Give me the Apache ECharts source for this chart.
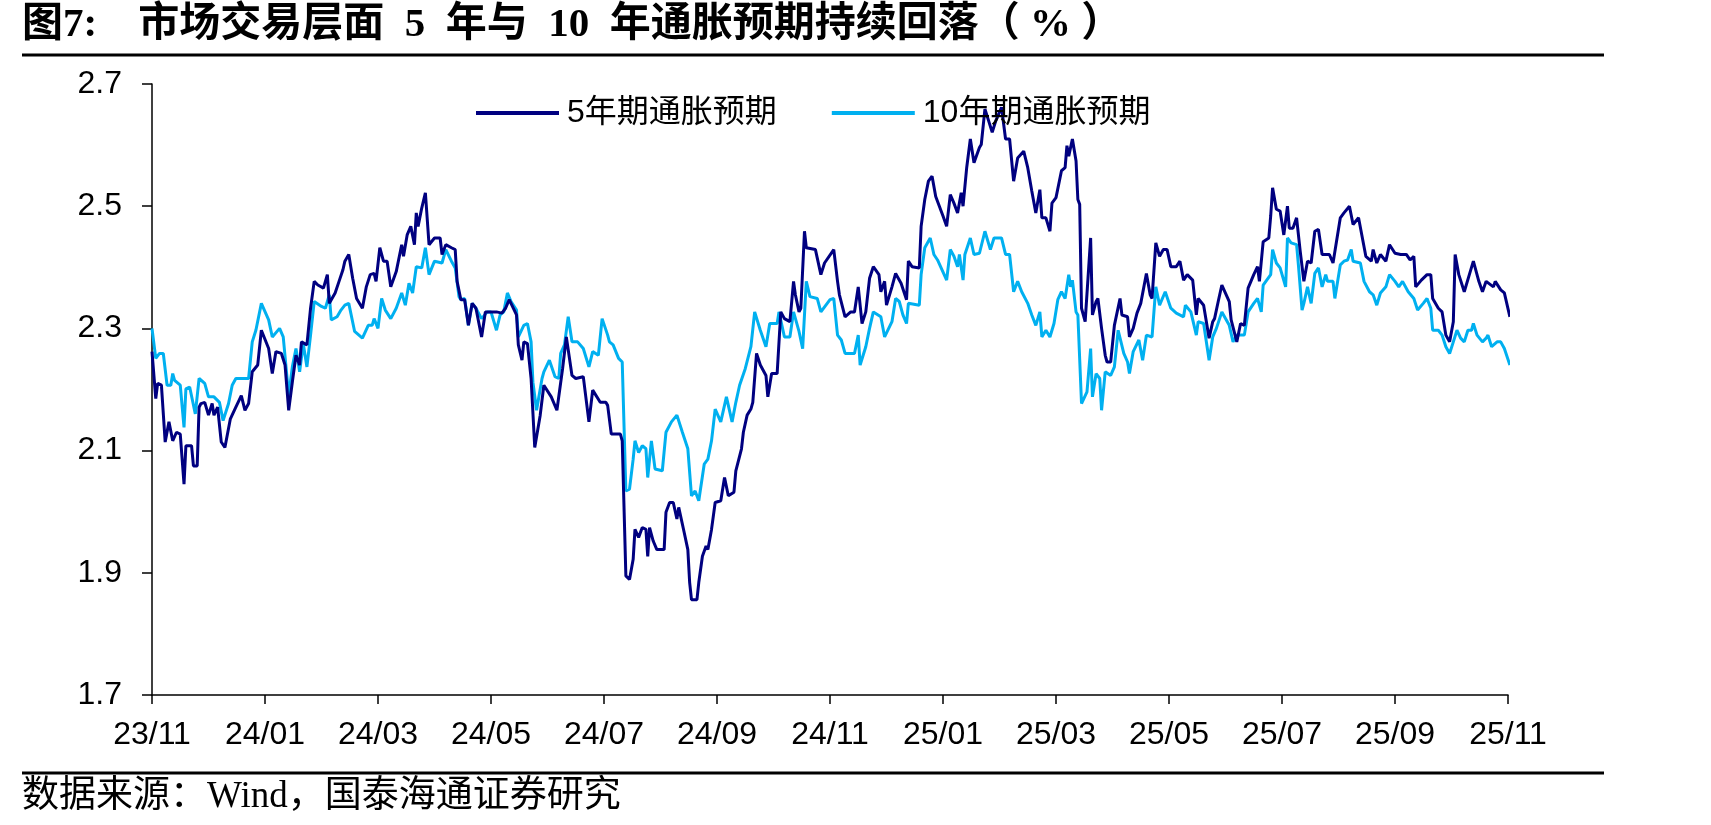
<!DOCTYPE html>
<html>
<head>
<meta charset="utf-8">
<script src="https://cdn.jsdelivr.net/npm/echarts@6/dist/echarts.min.js"></script>
<style>
html,body{margin:0;padding:0;background:#fff;}
#chart{width:1711px;height:825px;}
</style>
</head>
<body>
<div id="chart"></div>
<script>
// ---------- data ----------
const titleText = '图7:    市场交易层面  5  年与  10  年通胀预期持续回落（ % ）';
const sourceText = '数据来源：Wind，国泰海通证券研究';
const seriesNames = ['5年期通胀预期', '10年期通胀预期'];
const tickLabels = ['23/11','24/01','24/03','24/05','24/07','24/09','24/11','25/01','25/03','25/05','25/07','25/09','25/11'];
const yTicks = [1.7, 1.9, 2.1, 2.3, 2.5, 2.7];

const dates5 = [
'2023-11-01','2023-11-03','2023-11-04','2023-11-06','2023-11-08','2023-11-10','2023-11-11','2023-11-12','2023-11-14','2023-11-16',
'2023-11-18','2023-11-19','2023-11-22','2023-11-23','2023-11-25','2023-11-26','2023-11-27','2023-11-29','2023-12-01','2023-12-03',
'2023-12-04','2023-12-06','2023-12-08','2023-12-10','2023-12-13','2023-12-16','2023-12-19','2023-12-21','2023-12-23','2023-12-25',
'2023-12-28','2023-12-30','2024-01-03','2024-01-05','2024-01-07','2024-01-10','2024-01-12','2024-01-14','2024-01-16','2024-01-18',
'2024-01-20','2024-01-21','2024-01-24','2024-01-26','2024-01-28','2024-01-30','2024-02-02','2024-02-04','2024-02-05','2024-02-08',
'2024-02-10','2024-02-12','2024-02-13','2024-02-15','2024-02-17','2024-02-19','2024-02-22','2024-02-24','2024-02-26','2024-02-28',
'2024-02-29','2024-03-02','2024-03-04','2024-03-06','2024-03-08','2024-03-11','2024-03-14','2024-03-15','2024-03-17','2024-03-19',
'2024-03-21','2024-03-22','2024-03-23','2024-03-25','2024-03-27','2024-03-29','2024-04-01','2024-04-04','2024-04-05','2024-04-07',
'2024-04-10','2024-04-12','2024-04-13','2024-04-15','2024-04-17','2024-04-19','2024-04-21','2024-04-23','2024-04-26','2024-04-28',
'2024-05-01','2024-05-04','2024-05-07','2024-05-09','2024-05-11','2024-05-15','2024-05-16','2024-05-18','2024-05-19','2024-05-21',
'2024-05-23','2024-05-25','2024-05-28','2024-05-30','2024-06-03','2024-06-06','2024-06-09','2024-06-11','2024-06-14','2024-06-16',
'2024-06-20','2024-06-23','2024-06-25','2024-06-29','2024-07-02','2024-07-03','2024-07-05','2024-07-08','2024-07-10','2024-07-11',
'2024-07-13','2024-07-15','2024-07-17','2024-07-18','2024-07-20','2024-07-22','2024-07-24','2024-07-25','2024-07-26','2024-07-28',
'2024-07-30','2024-08-03','2024-08-04','2024-08-06','2024-08-08','2024-08-10','2024-08-11','2024-08-14','2024-08-16','2024-08-17',
'2024-08-18','2024-08-21','2024-08-22','2024-08-24','2024-08-26','2024-08-27','2024-08-29','2024-08-31','2024-09-03','2024-09-05',
'2024-09-07','2024-09-10','2024-09-11','2024-09-14','2024-09-15','2024-09-17','2024-09-19','2024-09-20','2024-09-22','2024-09-24',
'2024-09-27','2024-09-28','2024-09-30','2024-10-03','2024-10-04','2024-10-05','2024-10-07','2024-10-10','2024-10-12','2024-10-13',
'2024-10-15','2024-10-16','2024-10-18','2024-10-19','2024-10-24','2024-10-27','2024-10-29','2024-11-03','2024-11-05','2024-11-06',
'2024-11-09','2024-11-12','2024-11-14','2024-11-16','2024-11-18','2024-11-20','2024-11-22','2024-11-24','2024-11-27','2024-11-28',
'2024-11-30','2024-12-01','2024-12-04','2024-12-06','2024-12-09','2024-12-12','2024-12-13','2024-12-15','2024-12-19','2024-12-20',
'2024-12-21','2024-12-22','2024-12-24','2024-12-26','2024-12-28','2024-12-29','2025-01-01','2025-01-03','2025-01-05','2025-01-07',
'2025-01-09','2025-01-11','2025-01-12','2025-01-14','2025-01-16','2025-01-18','2025-01-19','2025-01-21','2025-01-22','2025-01-24',
'2025-01-26','2025-01-28','2025-01-30','2025-02-02','2025-02-04','2025-02-06','2025-02-08','2025-02-10','2025-02-13','2025-02-15',
'2025-02-17','2025-02-19','2025-02-21','2025-02-22','2025-02-24','2025-02-26','2025-02-27','2025-03-01','2025-03-04','2025-03-06',
'2025-03-07','2025-03-08','2025-03-10','2025-03-12','2025-03-13','2025-03-14','2025-03-15','2025-03-17','2025-03-18','2025-03-20',
'2025-03-21','2025-03-23','2025-03-24','2025-03-26','2025-03-28','2025-03-29','2025-03-31','2025-04-02','2025-04-05','2025-04-06',
'2025-04-09','2025-04-10','2025-04-12','2025-04-14','2025-04-16','2025-04-19','2025-04-21','2025-04-22','2025-04-24','2025-04-26',
'2025-04-28','2025-04-30','2025-05-02','2025-05-05','2025-05-07','2025-05-09','2025-05-11','2025-05-14','2025-05-16','2025-05-17',
'2025-05-20','2025-05-23','2025-05-25','2025-05-26','2025-05-28','2025-05-30','2025-06-03','2025-06-04','2025-06-07','2025-06-09',
'2025-06-11','2025-06-13','2025-06-16','2025-06-18','2025-06-19','2025-06-21','2025-06-24','2025-06-25','2025-06-26','2025-06-28',
'2025-06-30','2025-07-02','2025-07-04','2025-07-05','2025-07-07','2025-07-09','2025-07-11','2025-07-13','2025-07-15','2025-07-17',
'2025-07-19','2025-07-21','2025-07-23','2025-07-25','2025-07-27','2025-07-29','2025-07-30','2025-08-02','2025-08-04','2025-08-07',
'2025-08-09','2025-08-12','2025-08-13','2025-08-16','2025-08-19','2025-08-20','2025-08-22','2025-08-24','2025-08-27','2025-08-29',
'2025-09-01','2025-09-04','2025-09-07','2025-09-09','2025-09-11','2025-09-12','2025-09-15','2025-09-18','2025-09-20','2025-09-21',
'2025-09-24','2025-09-26','2025-09-28','2025-09-30','2025-10-02','2025-10-03','2025-10-05','2025-10-08','2025-10-11','2025-10-13',
'2025-10-14','2025-10-16','2025-10-18','2025-10-20','2025-10-21','2025-10-24','2025-10-25','2025-10-28','2025-10-30','2025-11-02'
];
const values5 = [
2.262,2.185,2.210,2.207,2.114,2.147,2.147,2.116,2.130,2.127,
2.045,2.108,2.108,2.075,2.075,2.171,2.177,2.179,2.158,2.177,
2.158,2.171,2.114,2.105,2.152,2.171,2.190,2.166,2.177,2.229,
2.240,2.297,2.267,2.226,2.262,2.259,2.240,2.166,2.212,2.256,
2.240,2.278,2.273,2.333,2.377,2.371,2.366,2.388,2.341,2.358,
2.377,2.396,2.410,2.421,2.382,2.349,2.333,2.368,2.388,2.390,
2.377,2.432,2.410,2.410,2.368,2.393,2.437,2.418,2.453,2.467,
2.437,2.489,2.467,2.497,2.522,2.437,2.448,2.448,2.421,2.437,
2.432,2.429,2.377,2.347,2.347,2.305,2.341,2.333,2.286,2.327,
2.327,2.327,2.325,2.333,2.347,2.322,2.273,2.248,2.278,2.275,
2.218,2.105,2.158,2.207,2.188,2.166,2.234,2.286,2.223,2.218,
2.221,2.147,2.199,2.179,2.179,2.174,2.127,2.127,2.127,2.116,
1.895,1.889,1.922,1.971,1.958,1.974,1.971,1.927,1.974,1.952,
1.938,1.938,1.999,2.015,2.015,1.988,2.007,1.966,1.938,1.884,
1.856,1.856,1.884,1.927,1.944,1.938,1.971,2.015,2.018,2.056,
2.026,2.032,2.067,2.103,2.130,2.158,2.168,2.179,2.259,2.240,
2.223,2.188,2.226,2.226,2.223,2.327,2.316,2.311,2.377,2.355,
2.327,2.333,2.459,2.432,2.429,2.388,2.407,2.429,2.377,2.355,
2.319,2.327,2.327,2.368,2.308,2.327,2.382,2.401,2.388,2.360,
2.377,2.338,2.368,2.390,2.374,2.347,2.410,2.401,2.399,2.467,
2.470,2.511,2.541,2.549,2.516,2.516,2.484,2.467,2.519,2.505,
2.489,2.522,2.500,2.563,2.610,2.571,2.571,2.596,2.601,2.659,
2.640,2.621,2.640,2.662,2.610,2.610,2.541,2.579,2.590,2.563,
2.525,2.489,2.527,2.481,2.481,2.459,2.505,2.514,2.558,2.563,
2.599,2.582,2.610,2.574,2.511,2.503,2.333,2.311,2.308,2.448,
2.322,2.344,2.349,2.300,2.256,2.245,2.245,2.305,2.349,2.322,
2.319,2.286,2.300,2.325,2.341,2.390,2.355,2.349,2.440,2.418,
2.429,2.429,2.401,2.401,2.410,2.379,2.388,2.379,2.322,2.349,
2.338,2.284,2.311,2.316,2.344,2.371,2.344,2.314,2.278,2.308,
2.305,2.366,2.388,2.401,2.377,2.442,2.448,2.484,2.530,2.495,
2.492,2.453,2.500,2.464,2.464,2.481,2.426,2.377,2.410,2.407,
2.459,2.462,2.421,2.421,2.421,2.407,2.407,2.481,2.489,2.500,
2.470,2.481,2.478,2.418,2.410,2.429,2.407,2.421,2.410,2.437,
2.423,2.421,2.421,2.412,2.418,2.368,2.379,2.388,2.388,2.349,
2.333,2.327,2.289,2.278,2.311,2.421,2.388,2.360,2.390,2.410,
2.407,2.377,2.360,2.377,2.377,2.368,2.377,2.363,2.358,2.319
];

const dates10 = [
'2023-11-01','2023-11-03','2023-11-05','2023-11-07','2023-11-09','2023-11-11','2023-11-12','2023-11-13','2023-11-16','2023-11-18',
'2023-11-19','2023-11-21','2023-11-24','2023-11-26','2023-11-29','2023-12-01','2023-12-04','2023-12-07','2023-12-09','2023-12-12',
'2023-12-14','2023-12-16','2023-12-21','2023-12-23','2023-12-25','2023-12-27','2023-12-30','2024-01-03','2024-01-05','2024-01-09',
'2024-01-11','2024-01-14','2024-01-16','2024-01-18','2024-01-20','2024-01-22','2024-01-24','2024-01-26','2024-01-28','2024-02-01',
'2024-02-03','2024-02-05','2024-02-06','2024-02-09','2024-02-11','2024-02-13','2024-02-15','2024-02-18','2024-02-22','2024-02-25',
'2024-02-27','2024-02-28','2024-03-01','2024-03-03','2024-03-05','2024-03-08','2024-03-11','2024-03-14','2024-03-16','2024-03-18',
'2024-03-20','2024-03-22','2024-03-25','2024-03-27','2024-03-29','2024-04-01','2024-04-05','2024-04-07','2024-04-10','2024-04-12',
'2024-04-14','2024-04-15','2024-04-17','2024-04-19','2024-04-21','2024-04-23','2024-04-26','2024-04-29','2024-05-01','2024-05-04',
'2024-05-06','2024-05-08','2024-05-10','2024-05-12','2024-05-15','2024-05-16','2024-05-19','2024-05-21','2024-05-23','2024-05-24',
'2024-05-26','2024-05-29','2024-05-30','2024-06-02','2024-06-05','2024-06-07','2024-06-08','2024-06-10','2024-06-12','2024-06-14',
'2024-06-17','2024-06-20','2024-06-23','2024-06-25','2024-06-28','2024-06-30','2024-07-03','2024-07-04','2024-07-06','2024-07-09',
'2024-07-11','2024-07-13','2024-07-15','2024-07-17','2024-07-18','2024-07-20','2024-07-22','2024-07-24','2024-07-25','2024-07-27',
'2024-07-29','2024-08-02','2024-08-04','2024-08-07','2024-08-10','2024-08-13','2024-08-16','2024-08-18','2024-08-20','2024-08-22',
'2024-08-25','2024-08-27','2024-08-29','2024-08-31','2024-09-03','2024-09-06','2024-09-09','2024-09-11','2024-09-13','2024-09-16',
'2024-09-19','2024-09-21','2024-09-24','2024-09-27','2024-09-29','2024-10-03','2024-10-04','2024-10-07','2024-10-10','2024-10-12',
'2024-10-15','2024-10-17','2024-10-19','2024-10-21','2024-10-25','2024-10-27','2024-11-01','2024-11-03','2024-11-05','2024-11-07',
'2024-11-09','2024-11-14','2024-11-16','2024-11-17','2024-11-20','2024-11-22','2024-11-24','2024-11-28','2024-11-30','2024-12-04',
'2024-12-06','2024-12-08','2024-12-10','2024-12-12','2024-12-13','2024-12-19','2024-12-20','2024-12-22','2024-12-25','2024-12-27',
'2024-12-29','2025-01-03','2025-01-05','2025-01-07','2025-01-09','2025-01-10','2025-01-12','2025-01-13','2025-01-16','2025-01-18',
'2025-01-21','2025-01-24','2025-01-27','2025-01-29','2025-02-02','2025-02-04','2025-02-06','2025-02-08','2025-02-10','2025-02-12',
'2025-02-15','2025-02-17','2025-02-19','2025-02-21','2025-02-22','2025-02-24','2025-02-26','2025-02-28','2025-03-02','2025-03-04',
'2025-03-06','2025-03-08','2025-03-09','2025-03-10','2025-03-12','2025-03-13','2025-03-15','2025-03-16','2025-03-18','2025-03-20',
'2025-03-21','2025-03-23','2025-03-25','2025-03-26','2025-03-28','2025-03-31','2025-04-02','2025-04-04','2025-04-07','2025-04-09',
'2025-04-10','2025-04-12','2025-04-15','2025-04-17','2025-04-19','2025-04-22','2025-04-24','2025-04-26','2025-04-29','2025-05-02',
'2025-05-05','2025-05-09','2025-05-10','2025-05-13','2025-05-16','2025-05-17','2025-05-20','2025-05-23','2025-05-25','2025-05-27',
'2025-05-30','2025-06-03','2025-06-05','2025-06-07','2025-06-11','2025-06-13','2025-06-16','2025-06-18','2025-06-20','2025-06-21',
'2025-06-25','2025-06-26','2025-06-28','2025-06-30','2025-07-03','2025-07-04','2025-07-06','2025-07-09','2025-07-10','2025-07-12',
'2025-07-13','2025-07-15','2025-07-17','2025-07-19','2025-07-21','2025-07-23','2025-07-25','2025-07-26','2025-07-29','2025-07-30',
'2025-08-02','2025-08-04','2025-08-06','2025-08-08','2025-08-09','2025-08-13','2025-08-15','2025-08-18','2025-08-20','2025-08-22',
'2025-08-24','2025-08-27','2025-08-29','2025-09-01','2025-09-03','2025-09-05','2025-09-08','2025-09-11','2025-09-13','2025-09-16',
'2025-09-18','2025-09-20','2025-09-21','2025-09-24','2025-09-26','2025-09-28','2025-09-30','2025-10-02','2025-10-04','2025-10-06',
'2025-10-08','2025-10-10','2025-10-12','2025-10-13','2025-10-15','2025-10-18','2025-10-20','2025-10-21','2025-10-23','2025-10-26',
'2025-10-28','2025-10-30','2025-11-02'
];
const values10 = [
2.300,2.251,2.259,2.259,2.207,2.207,2.226,2.215,2.207,2.138,
2.201,2.204,2.160,2.218,2.210,2.188,2.188,2.179,2.149,2.177,
2.207,2.218,2.218,2.218,2.278,2.297,2.341,2.314,2.286,2.300,
2.286,2.190,2.237,2.267,2.229,2.275,2.237,2.289,2.344,2.336,
2.333,2.355,2.314,2.319,2.330,2.338,2.341,2.295,2.284,2.305,
2.305,2.316,2.300,2.349,2.330,2.316,2.333,2.358,2.338,2.374,
2.358,2.401,2.399,2.432,2.388,2.410,2.407,2.429,2.410,2.399,
2.352,2.347,2.349,2.305,2.341,2.333,2.316,2.327,2.327,2.297,
2.322,2.327,2.358,2.344,2.330,2.286,2.305,2.308,2.278,2.212,
2.166,2.218,2.229,2.248,2.221,2.218,2.259,2.273,2.319,2.278,
2.278,2.267,2.237,2.262,2.256,2.316,2.289,2.278,2.273,2.251,
2.245,2.034,2.037,2.086,2.116,2.097,2.108,2.103,2.056,2.116,
2.070,2.067,2.130,2.147,2.158,2.130,2.103,2.026,2.034,2.018,
2.078,2.086,2.116,2.168,2.147,2.188,2.147,2.179,2.207,2.234,
2.270,2.327,2.297,2.270,2.308,2.308,2.327,2.286,2.286,2.327,
2.295,2.267,2.377,2.352,2.349,2.327,2.347,2.349,2.289,2.281,
2.259,2.259,2.289,2.240,2.270,2.300,2.327,2.319,2.286,2.311,
2.349,2.344,2.322,2.308,2.341,2.338,2.388,2.432,2.448,2.421,
2.412,2.379,2.429,2.418,2.401,2.421,2.379,2.421,2.448,2.421,
2.423,2.459,2.429,2.448,2.448,2.421,2.421,2.360,2.377,2.360,
2.341,2.322,2.305,2.327,2.286,2.297,2.286,2.308,2.347,2.360,
2.349,2.388,2.368,2.379,2.327,2.322,2.177,2.179,2.196,2.267,
2.188,2.226,2.218,2.166,2.229,2.223,2.237,2.297,2.259,2.245,
2.226,2.262,2.281,2.248,2.289,2.286,2.368,2.338,2.360,2.333,
2.325,2.319,2.338,2.327,2.289,2.311,2.308,2.248,2.286,2.300,
2.327,2.305,2.278,2.289,2.289,2.327,2.341,2.349,2.327,2.371,
2.388,2.429,2.407,2.399,2.368,2.448,2.440,2.437,2.404,2.330,
2.341,2.368,2.341,2.390,2.399,2.368,2.388,2.377,2.377,2.349,
2.404,2.410,2.412,2.429,2.410,2.407,2.377,2.360,2.355,2.338,
2.358,2.368,2.388,2.377,2.368,2.377,2.360,2.349,2.330,2.341,
2.349,2.333,2.297,2.297,2.289,2.270,2.259,2.278,2.297,2.284,
2.278,2.297,2.297,2.308,2.289,2.278,2.284,2.289,2.270,2.278,
2.278,2.267,2.240
];

// ---------- helpers ----------
const START_Y = 2023, START_M = 11;
function monthPos(s) {
  const p = s.split('-').map(Number);
  const dim = new Date(p[0], p[1], 0).getDate();
  return (p[0] - START_Y) * 12 + (p[1] - START_M) + (p[2] - 1) / dim;
}
function pairs(dates, vals) { return dates.map((d, i) => [monthPos(d), vals[i], d]); }

const COLORS = ['#000080', '#00B0F0'];
const LATIN_CJK = '"Liberation Sans", Arial, "Noto Sans CJK SC", sans-serif';
const SERIF_CJK = '"Liberation Serif", "Times New Roman", "Noto Sans CJK SC", serif';

const chart = echarts.init(document.getElementById('chart'), null, {renderer: 'canvas'});
chart.setOption({
  backgroundColor: '#ffffff',
  animation: false,
  grid: {left: 152, right: 203, top: 84, bottom: 130, containLabel: false},
  legend: {
    data: seriesNames,
    left: 471, top: 92,
    icon: 'rect', itemWidth: 83, itemHeight: 4, itemGap: 55,
    textStyle: {fontSize: 32, color: '#000', fontFamily: LATIN_CJK, padding: [0, 0, 0, 3]}
  },
  xAxis: {
    type: 'value', min: 0, max: (tickLabels.length - 1) * 2, interval: 2,
    axisLine: {show: true, lineStyle: {color: '#000', width: 1.5}},
    axisTick: {show: true, inside: false, length: 9, lineStyle: {color: '#000', width: 1.5}},
    splitLine: {show: false},
    axisLabel: {
      margin: 24, fontSize: 32, color: '#000', fontFamily: LATIN_CJK,
      formatter: v => tickLabels[Math.round(v / 2)] || ''
    }
  },
  yAxis: {
    type: 'value', min: yTicks[0], max: yTicks[yTicks.length - 1], interval: 0.2,
    axisLine: {show: true, lineStyle: {color: '#000', width: 1.5}},
    axisTick: {show: true, inside: false, length: 10, lineStyle: {color: '#000', width: 1.5}},
    splitLine: {show: false},
    axisLabel: {margin: 30, fontSize: 32, color: '#000', fontFamily: LATIN_CJK, formatter: v => v.toFixed(1)}
  },
  series: [
    {name: seriesNames[0], type: 'line', data: pairs(dates5, values5), showSymbol: false, symbol: 'none', clip: false,
     lineStyle: {color: COLORS[0], width: 3}, itemStyle: {color: COLORS[0]}, z: 3},
    {name: seriesNames[1], type: 'line', data: pairs(dates10, values10), showSymbol: false, symbol: 'none', clip: false,
     lineStyle: {color: COLORS[1], width: 3}, itemStyle: {color: COLORS[1]}, z: 2}
  ],
  graphic: [
    {type: 'text', left: 22, top: 5, style: {text: titleText, fill: '#000', font: 'bold 41px ' + SERIF_CJK}},
    {type: 'line', shape: {x1: 22, y1: 55, x2: 1604, y2: 55}, style: {stroke: '#000', lineWidth: 3}},
    {type: 'line', shape: {x1: 22, y1: 773, x2: 1604, y2: 773}, style: {stroke: '#000', lineWidth: 3}},
    {type: 'text', left: 22, top: 779, style: {text: sourceText, fill: '#000', font: '37px ' + SERIF_CJK}}
  ]
});
</script>
</body>
</html>
